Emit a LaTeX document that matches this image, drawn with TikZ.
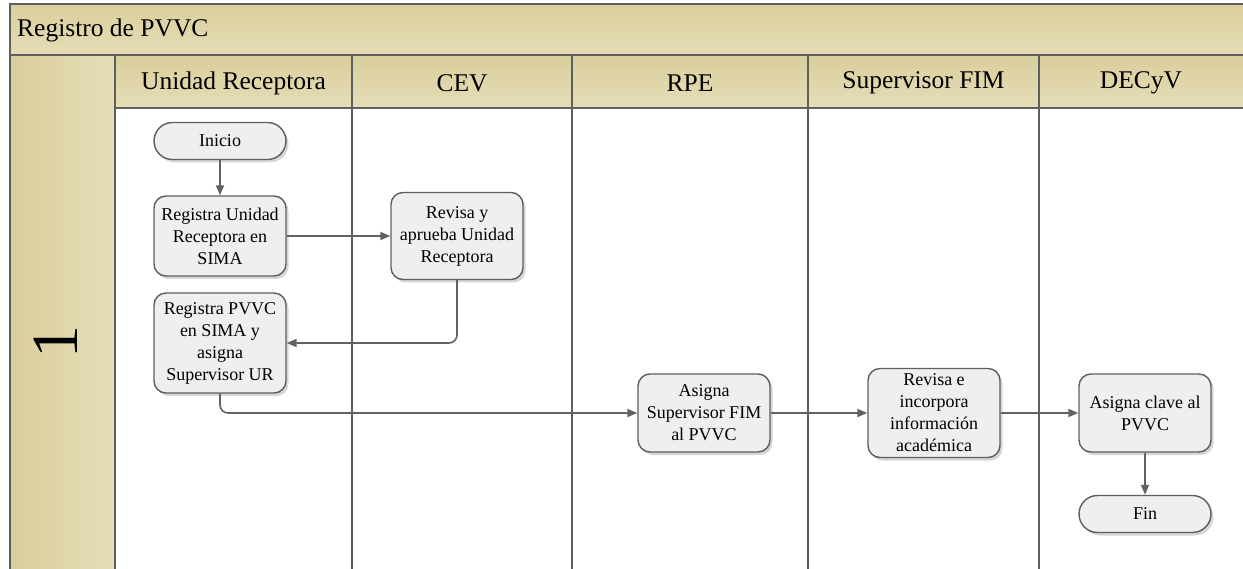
\documentclass[tikz,border=0pt]{standalone}
\usepackage{fontspec}
\setmainfont{Liberation Serif}
\usetikzlibrary{arrows.meta,shadows}

\definecolor{frameline}{HTML}{5E5E5E}
\definecolor{connline}{HTML}{626262}
\definecolor{bandtop}{HTML}{D9CE9B}
\definecolor{bandbot}{HTML}{E6DDB8}
\definecolor{nodefill}{HTML}{EFEFEF}

\tikzset{
  frame/.style={draw=frameline, line width=2pt},
  headtext/.style={font=\fontsize{25.5}{30}\selectfont, inner sep=0pt},
  procbox/.style={draw=frameline, line width=1.4pt, fill=nodefill,
    rounded corners=12pt, minimum width=132pt, align=center,
    font=\fontsize{18}{22}\selectfont, inner sep=2pt,
    drop shadow={shadow xshift=2.5pt, shadow yshift=-3pt, fill=black, opacity=0.16}},
  termbox/.style={procbox, rounded corners=18.5pt, minimum height=37pt},
  conn/.style={draw=connline, line width=1.6pt,
    -{Triangle[length=10pt,width=8pt]}, rounded corners=8pt}
}

\begin{document}
\begin{tikzpicture}[x=1pt,y=-1pt]
\useasboundingbox (0,0) rectangle (1243,569);

% pool title band, lane header row and pool label column
\shade[top color=bandtop, bottom color=bandbot] (10,4) rectangle (1243,55);
\shade[top color=bandtop, bottom color=bandbot] (115,55) rectangle (1243,108);
\shade[left color=bandtop, right color=bandbot] (10,55) rectangle (115,569);

% frame and lane separators
\draw[frame] (10,569) -- (10,4) -- (1243,4);
\draw[frame] (10,55) -- (1243,55);
\draw[frame] (115,108) -- (1243,108);
\foreach \lx in {115,352,572,808,1039}
  \draw[frame] (\lx,55) -- (\lx,569);

% texts of the pool and the lanes
\node[headtext, anchor=west] (pooltitle) at (17,30) {Registro de PVVC};
\node[rotate=90, font=\fontsize{66}{70}\selectfont, inner sep=0pt] (poolnum) at (56,342) {1};
\node[headtext] (laneA) at (233.5,83) {Unidad Receptora};
\node[headtext] (laneB) at (462,83) {CEV};
\node[headtext] (laneC) at (690,83) {RPE};
\node[headtext] (laneD) at (923.5,83) {Supervisor FIM};
\node[headtext] (laneE) at (1141,83) {DECyV};

% process steps
\node[termbox] (inicio) at (220,141) {Inicio};
\node[procbox, minimum height=80pt] (reg1) at (220,236) {Registra Unidad\\Receptora en\\SIMA};
\node[procbox, minimum height=87pt] (rev1) at (457,236) {Revisa y\\aprueba Unidad\\Receptora};
\node[procbox, minimum height=100pt] (reg2) at (220,343) {Registra PVVC\\en SIMA y\\asigna\\Supervisor UR};
\node[procbox, minimum height=78pt] (asig) at (704,413) {Asigna\\Supervisor FIM\\al PVVC};
\node[procbox, minimum height=89pt] (revinc) at (934,413) {Revisa e\\incorpora\\información\\académica};
\node[procbox, minimum height=78pt] (clave) at (1145,413) {Asigna clave al\\PVVC};
\node[termbox] (fin) at (1145,514) {Fin};

% flow
\draw[conn] (inicio) -- (reg1);
\draw[conn] (reg1.east) -- (rev1.west |- reg1.east);
\draw[conn] (rev1.south) |- (reg2.east);
\draw[conn] (reg2.south) |- (asig.west);
\draw[conn] (asig.east) -- (revinc.west |- asig.east);
\draw[conn] (revinc.east) -- (clave.west |- revinc.east);
\draw[conn] (clave) -- (fin);
\end{tikzpicture}
\end{document}
